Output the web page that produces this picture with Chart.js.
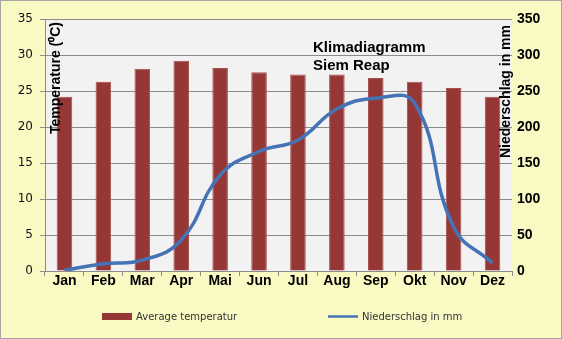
<!DOCTYPE html>
<html>
<head>
<meta charset="utf-8">
<script src="https://cdn.jsdelivr.net/npm/chart.js@4"></script>
<style>
  html, body { margin: 0; padding: 0; background: #f9f9c3; }
  canvas { display: block; }
</style>
</head>
<body>
<canvas id="klima" width="562" height="339"></canvas>
<script>
// ======= Daten =======
const months = ['Jan', 'Feb', 'Mar', 'Apr', 'Mai', 'Jun', 'Jul', 'Aug', 'Sep', 'Okt', 'Nov', 'Dez'];
const temperature = [24.2, 26.3, 28.1, 29.2, 28.2, 27.6, 27.3, 27.3, 26.8, 26.3, 25.4, 24.2];
const niederschlag = [1, 10, 15, 43, 133, 166, 182, 225, 240, 233, 61, 11];
const tempTicks = [0, 5, 10, 15, 20, 25, 30, 35];
const rainTicks = [0, 50, 100, 150, 200, 250, 300, 350];

const BAR_RED = '#953735';
const LINE_BLUE = '#4573b5';
const GRID = '#8c8c8c';

// Hintergrund, Rahmen, Plotfläche
const backdrop = {
    id: 'backdrop',
    beforeDraw(chart) {
        const { ctx, chartArea: a, width, height } = chart;
        ctx.save();
        ctx.fillStyle = '#f9f9c3';
        ctx.fillRect(0, 0, width, height);
        ctx.strokeStyle = '#a6a6a6';
        ctx.lineWidth = 1;
        ctx.strokeRect(0.5, 0.5, width - 1, height - 1);
        ctx.fillStyle = '#f2f2f2';
        ctx.fillRect(a.left, a.top, a.right - a.left, a.bottom - a.top);
        ctx.restore();
    }
};

// Titel, Achsentitel und Legende
const texts = {
    id: 'texts',
    afterDatasetsDraw(chart) {
        const { ctx } = chart;
        ctx.save();
        ctx.fillStyle = '#000';
        ctx.font = 'bold 15px "Liberation Sans", Arial, sans-serif';
        ctx.textAlign = 'left';
        ctx.textBaseline = 'alphabetic';
        ctx.fillText('Klimadiagramm', 313, 52);
        ctx.fillText('Siem Reap', 313, 70);

        ctx.font = 'bold 14px "Liberation Sans", Arial, sans-serif';
        ctx.textBaseline = 'middle';
        ctx.textAlign = 'right';
        ctx.save();
        ctx.translate(56, 22);
        ctx.rotate(-Math.PI / 2);
        ctx.fillText('Temperature (\u2070C)', 0, 0);
        ctx.restore();
        ctx.save();
        ctx.translate(506, 25);
        ctx.rotate(-Math.PI / 2);
        ctx.fillText('Niederschlag in mm', 0, 0);
        ctx.restore();

        // Legende
        const ds = chart.data.datasets;
        ctx.font = '10px "DejaVu Sans", sans-serif';
        ctx.textAlign = 'left';
        ctx.fillStyle = '#333';
        ctx.fillStyle = BAR_RED;
        ctx.fillRect(102, 313, 30, 7);
        ctx.fillStyle = '#333';
        ctx.fillText(ds[0].label, 136, 317);
        ctx.strokeStyle = LINE_BLUE;
        ctx.lineWidth = 2.5;
        ctx.beginPath();
        ctx.moveTo(328, 316.5);
        ctx.lineTo(358, 316.5);
        ctx.stroke();
        ctx.fillText(ds[1].label, 362, 317);
        ctx.restore();
    }
};

new Chart(document.getElementById('klima').getContext('2d'), {
    data: {
        labels: months,
        datasets: [{
            type: 'bar',
            label: 'Average temperatur',
            data: temperature,
            yAxisID: 'y',
            backgroundColor: BAR_RED,
            borderColor: '#a9504e',
            borderWidth: 1,
            categoryPercentage: 1,
            barPercentage: 0.4,
            order: 1
        }, {
            type: 'line',
            label: 'Niederschlag in mm',
            data: niederschlag,
            yAxisID: 'y1',
            borderColor: LINE_BLUE,
            borderWidth: 3.5,
            pointRadius: 0,
            tension: 0.45,
            fill: false,
            order: 0
        }]
    },
    options: {
        responsive: false,
        animation: false,
        devicePixelRatio: 1,
        layout: { padding: { top: 19, left: 0, right: 0, bottom: 0 } },
        plugins: {
            legend: { display: false },
            tooltip: { enabled: false }
        },
        scales: {
            x: {
                afterFit(s) { s.height = 68; },
                grid: { drawOnChartArea: false, offset: true, tickLength: 5, color: GRID },
                border: { color: GRID },
                ticks: {
                    padding: -3,
                    color: '#000',
                    font: { family: '"Liberation Sans", Arial, sans-serif', size: 14, weight: 'bold' }
                }
            },
            y: {
                position: 'left',
                min: 0, max: 35,
                afterFit(s) { s.width = 45; },
                afterBuildTicks(s) { s.ticks = tempTicks.map(v => ({ value: v })); },
                grid: { color: GRID, tickLength: 5 },
                border: { color: GRID },
                ticks: {
                    padding: 7,
                    color: '#111',
                    font: { family: '"DejaVu Sans", sans-serif', size: 12 }
                }
            },
            y1: {
                position: 'right',
                min: 0, max: 350,
                afterFit(s) { s.width = 50; },
                afterBuildTicks(s) { s.ticks = rainTicks.map(v => ({ value: v })); },
                grid: { drawOnChartArea: false, drawTicks: false },
                border: { display: false },
                ticks: {
                    padding: 5,
                    color: '#000',
                    font: { family: '"Liberation Sans", Arial, sans-serif', size: 14, weight: 'bold' }
                }
            }
        }
    },
    plugins: [backdrop, texts]
});
</script>
</body>
</html>
